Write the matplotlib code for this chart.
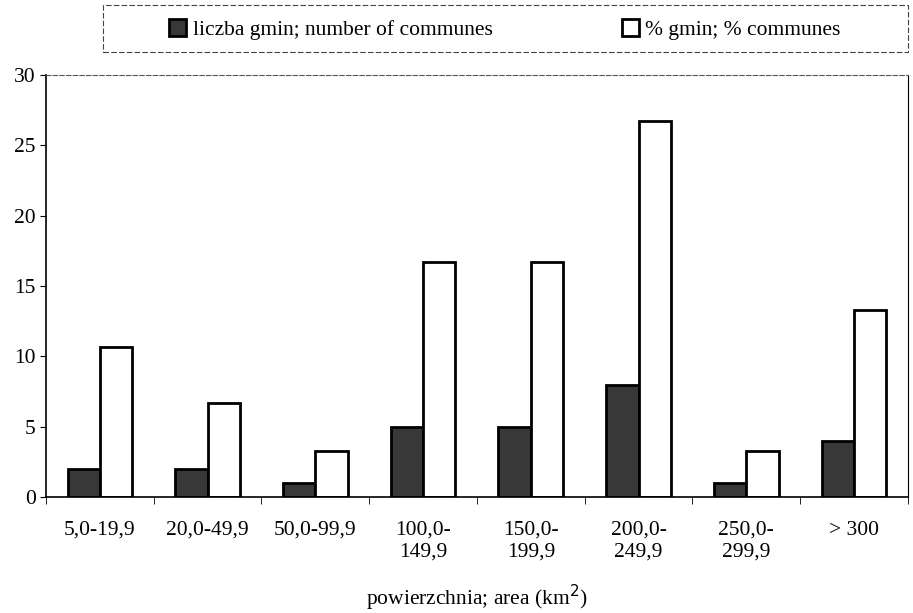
import numpy as np
import matplotlib.pyplot as plt
from matplotlib.patches import Rectangle

plt.rcParams['font.family'] = ['Liberation Serif', 'DejaVu Serif']

# data
categories = ['5,0-19,9', '20,0-49,9', '50,0-99,9', '100,0-\n149,9', '150,0-\n199,9',
              '200,0-\n249,9', '250,0-\n299,9', '> 300']
counts = [2, 2, 1, 5, 5, 8, 1, 4]
percents = [10.7, 6.7, 3.3, 16.7, 16.7, 26.7, 3.3, 13.3]

fig = plt.figure(figsize=(9.13, 6.13), dpi=100)
ax = fig.add_axes([0.0504, 0.189, 0.944, 0.689])

x = np.arange(len(categories))
w = 0.3
b1 = ax.bar(x - w / 2, counts, w, color='#383838', edgecolor='black', linewidth=2,
            label='liczba gmin; number of communes')
b2 = ax.bar(x + w / 2, percents, w, color='white', edgecolor='black', linewidth=2,
            label='% gmin; % communes')

ax.set_xlim(-0.5, len(categories) - 0.5)
ax.set_ylim(0, 30)
ax.set_yticks(range(0, 31, 5))
ax.set_xticks(x)
ax.set_xticklabels(categories, fontsize=15.5)
ax.set_xticks(np.arange(-0.5, len(categories), 1), minor=True)
ax.tick_params(axis='x', which='major', length=0, pad=17)
ax.tick_params(axis='x', which='minor', length=5, direction='out')
ax.tick_params(axis='y', labelsize=15.5, length=4, direction='out')

ax.spines['top'].set_linestyle((0, (4, 2)))
ax.spines['top'].set_color('#555555')
ax.spines['top'].set_linewidth(0.8)
ax.spines['left'].set_linewidth(1.2)
ax.spines['bottom'].set_linewidth(1.2)

ax.set_xlabel('powierzchnia; area (km$^2$)', fontsize=15.5, labelpad=15)

# legend box above the plot
fig.patches.append(Rectangle((0.113, 0.915), 0.882, 0.077, transform=fig.transFigure,
                             facecolor='none', edgecolor='#444444', linewidth=0.8,
                             linestyle=(0, (5, 2))))
fig.legend(handles=[b1, b2], loc='center', bbox_to_anchor=(0.553, 0.952), ncol=2,
           frameon=False, fontsize=15.5, handlelength=0.8, handleheight=0.8,
           handletextpad=0.3, columnspacing=6.0)

fig.savefig('out.png', dpi=100)
